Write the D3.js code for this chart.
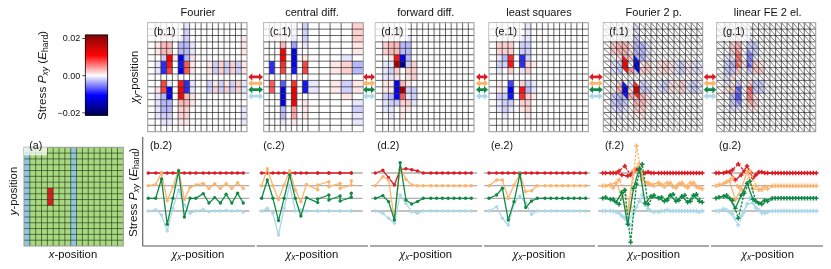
<!DOCTYPE html>
<html><head><meta charset="utf-8">
<script src="https://cdn.jsdelivr.net/npm/d3@7/dist/d3.min.js"></script>
<style>html,body{margin:0;padding:0;background:#fff}svg{display:block;filter:blur(0.3px)}text{font-family:"Liberation Sans",Arial,sans-serif;fill:#111}</style>
</head><body><svg id="c" width="831" height="269"></svg>
<script>
// ---------- text ----------
const panelTitles = ["Fourier","central diff.","forward diff.","least squares","Fourier 2 p.","linear FE 2 el."];
const panelTags = ["b","c","d","e","f","g"];
const seriesColors = ["#dc1c24","#fdb36c","#0f8a45","#abd9e9"];
// ---------- heat maps, stress in 1e-3 E_hard ----------
const heatB = [
[0,0,0,0,0,0,-1,0,0,0,0,0,0,0,0,0,0],
[0,0,0,0,0,0,-2,0,0,0,0,0,0,0,0,0,0],
[0,0,1,1,0,-1,-2,0,0,0,0,0,0,0,0,0,1],
[0,1,3,3,0,-3,-3,-1,0,0,0,0,0,0,0,0,1],
[0,1,3,3,0,-3,-3,-1,0,0,0,0,0,0,0,0,1],
[0,0,-2,11,1,-11,-3,1,0,0,0,0,0,0,0,0,0],
[0,-1,-9,10,0,-10,7,1,0,0,1,-2,2,-2,2,-2,1],
[0,-1,-9,8,0,-11,7,1,0,0,1,-2,2,-2,2,-2,1],
[0,0,0,0,0,0,0,0,0,0,0,0,0,0,0,0,0],
[0,0,8,-1,0,10,-9,-1,0,0,-2,1,-2,1,-2,2,-1],
[0,1,8,-11,0,11,-9,-1,0,0,-2,2,-2,2,-2,2,-1],
[0,-1,-3,-11,0,11,3,1,0,0,0,0,0,0,0,0,0],
[0,-1,-3,-3,0,3,3,1,0,0,0,0,0,0,0,0,0],
[0,-1,-3,-3,0,2,2,0,0,0,0,0,0,0,0,0,-1],
[0,-1,-2,-2,0,2,2,0,0,0,0,0,0,0,0,0,-1],
[0,0,-1,-1,0,1,1,0,0,0,0,0,0,0,0,0,-1],
[0,0,0,0,0,0,0,0,0,0,0,0,0,0,0,0,0]];
const heatC = [
[0,0,0,0,0,-1,0,-2,0,0,0,0,2],
[0,0,0,0,0,-1,0,-2,0,0,0,0,2],
[0,0,0,2,0,-3,0,-2,0,0,0,0,2],
[0,0,0,3,0,-4,0,-1,0,0,0,0,1],
[0,0,0,11,0,-12,0,0,0,0,0,0,1],
[0,0,0,11,0,-12,0,1,0,0,0,-1,0],
[0,-9,0,9,0,-11,0,8,0,0,1,2,-3],
[0,-9,0,8,0,-10,0,8,0,0,1,2,-3],
[0,0,0,0,0,0,0,0,0,0,0,0,0],
[0,7,0,-7,0,9,0,-10,-1,0,1,-2,1],
[0,7,0,-12,0,12,0,-10,-1,0,1,-2,1],
[0,0,0,-12,0,12,0,0,0,0,0,1,0],
[0,0,0,-12,0,11,0,1,0,0,0,0,-1],
[0,0,0,-3,0,4,0,1,0,0,0,0,-2],
[0,0,0,-3,0,4,0,1,0,0,0,0,-1],
[0,0,0,-1,0,1,0,0,0,0,0,0,-1],
[0,0,0,0,0,0,0,0,0,0,0,0,0]];
const heatD = [
[0,0,0,0,0,0,0,0,0,0,0,0,0,0,0,0,0],
[0,0,0,0,0,0,0,0,0,0,0,0,0,0,0,0,0],
[0,0,1,1,-1,-1,0,0,0,0,0,0,0,0,0,0,0],
[0,2,3,3,-3,-3,0,0,0,0,0,0,0,0,0,0,0],
[0,2,3,3,-3,-3,0,0,0,0,0,0,0,0,0,0,0],
[0,0,1,10,-11,-3,0,0,0,0,0,0,0,0,0,0,0],
[0,-1,-1,18,-17,-2,2,0,0,0,0,0,0,0,0,0,0],
[0,-1,-2,2,0,2,2,0,0,0,0,0,0,0,0,0,0],
[0,-1,-1,1,0,1,2,0,0,0,0,0,0,0,0,0,0],
[0,1,1,-11,3,1,0,0,0,0,0,0,0,0,0,0,0],
[0,1,1,-12,18,-2,-2,0,0,0,0,0,0,0,0,0,0],
[0,-2,-3,-11,7,-1,-2,0,0,0,0,0,0,0,0,0,0],
[0,-1,-2,-2,2,2,-1,0,0,0,0,0,0,0,0,0,0],
[0,-1,-1,0,1,1,0,0,0,0,0,0,0,0,0,0,0],
[0,0,-1,0,1,0,0,0,0,0,0,0,0,0,0,0,0],
[0,0,0,0,0,0,0,0,0,0,0,0,0,0,0,0,0],
[0,0,0,0,0,0,0,0,0,0,0,0,0,0,0,0,0]];
const heatE = [
[0,0,0,0,0,0,-1,0,0,0,0,0,0,0,0,0,0],
[0,0,0,0,0,0,-1,0,0,0,0,0,0,0,0,0,0],
[0,0,1,1,0,-1,-1,0,0,0,0,0,0,0,0,0,0],
[0,2,2,2,0,-2,-2,0,0,0,0,0,0,0,0,0,0],
[0,2,2,2,0,-2,-2,0,0,0,0,0,0,0,0,0,0],
[0,-1,-3,9,0,-9,-2,0,0,0,0,0,0,0,0,0,0],
[0,-2,-2,10,0,-9,2,1,0,0,0,0,0,0,0,0,0],
[0,-1,0,2,0,-1,2,0,0,0,0,0,0,0,0,0,0],
[0,0,0,0,0,0,0,0,0,0,0,0,0,0,0,0,0],
[0,1,0,-8,0,2,-2,-1,0,0,0,0,0,0,0,0,0],
[0,1,-1,-11,0,10,-3,-1,0,0,0,0,0,0,0,0,0],
[0,-2,-2,-10,0,9,2,1,0,0,0,0,0,0,0,0,0],
[0,-1,-2,-2,0,2,2,0,0,0,0,0,0,0,0,0,0],
[0,-1,-2,-1,0,1,2,0,0,0,0,0,0,0,0,0,0],
[0,0,-1,0,0,0,1,0,0,0,0,0,0,0,0,0,0],
[0,0,0,0,0,0,0,0,0,0,0,0,0,0,0,0,0],
[0,0,0,0,0,0,0,0,0,0,0,0,0,0,0,0,0]];
const heatF = [
[0,0,0,0,0,-1,0,0,0,0,0,0,0,0,0,0,0],
[0,0,0,0,0,-1,0,0,0,0,0,0,0,0,0,0,0],
[0,0,1,0,0,-2,0,0,0,0,0,0,0,0,0,0,0],
[0,2,3,3,1,-3,-3,-1,0,0,0,0,0,0,0,0,0],
[0,2,3,3,1,-3,-3,-1,0,0,0,0,0,0,0,0,0],
[0,0,1,3,2,-3,-3,-1,0,0,0,0,0,0,0,0,0],
[0,-1,-2,11,0,-13,1,2,0,1,2,1,-1,-2,1,-1,-1],
[0,-1,-2,0,4,-2,2,2,0,1,2,1,-1,-2,1,-1,-1],
[0,0,0,0,0,0,0,0,0,0,0,0,0,0,0,0,0],
[0,0,2,0,-1,0,-2,-1,0,-1,-2,1,1,2,-1,-2,-1],
[0,0,3,-12,1,14,-2,-2,0,-1,-2,1,1,2,-1,-2,-1],
[0,-2,-3,-3,3,3,3,1,0,0,0,0,0,0,0,0,0],
[0,-2,-3,-2,0,3,3,1,0,0,0,0,0,0,0,0,0],
[0,-1,-2,-1,0,2,2,0,0,0,0,0,0,0,0,0,0],
[0,0,-1,0,0,1,1,0,0,0,0,0,0,0,0,0,0],
[0,0,0,0,0,0,0,0,0,0,0,0,0,0,0,0,0],
[0,0,0,0,0,0,0,0,0,0,0,0,0,0,0,0,0]];
const heatG = [
[0,0,0,0,0,0,0,0,0,0,0,0,0,0,0,0,0],
[0,0,0,0,0,0,0,0,0,0,0,0,0,0,0,0,0],
[0,0,0,1,0,-1,0,0,0,0,0,0,0,0,0,0,0],
[0,0,2,3,0,-2,-2,0,0,0,0,0,0,0,0,0,0],
[0,0,2,3,0,-2,-2,0,0,0,0,0,0,0,0,0,0],
[0,-1,-1,6,0,-5,-1,0,0,0,0,0,0,0,0,0,0],
[0,-2,-3,7,1,-7,2,1,0,0,0,0,0,0,0,0,0],
[0,-2,-2,2,0,-2,2,2,0,0,0,0,0,0,0,0,0],
[0,-1,1,0,0,0,0,0,0,0,0,0,0,0,0,0,0],
[0,-1,1,-2,0,2,-2,-2,0,0,0,0,0,0,0,0,0],
[0,1,2,-7,0,7,-2,-2,0,0,0,0,0,0,0,0,0],
[0,0,-3,-7,0,5,1,0,0,0,0,0,0,0,0,0,0],
[0,0,-2,-3,0,2,2,0,0,0,0,0,0,0,0,0,0],
[0,0,-1,-1,0,1,1,0,0,0,0,0,0,0,0,0,0],
[0,0,0,0,0,0,0,0,0,0,0,0,0,0,0,0,0],
[0,0,0,0,0,0,0,0,0,0,0,0,0,0,0,0,0],
[0,0,0,0,0,0,0,0,0,0,0,0,0,0,0,0,0]];
// triangle overrides [row, col, triangle, value]
const triF = [[5,3,"ll",10],[5,5,"ll",-10],[7,3,"ur",10],[7,5,"ur",-11],[9,3,"ll",-10],[9,5,"ll",9],[11,3,"ur",-10],[11,5,"ur",9]];
const triG = [[4,3,"ll",5],[6,3,"ur",4],[4,5,"ll",-5],[6,5,"ur",-4],[10,3,"ll",-5],[12,3,"ur",-5],[10,5,"ll",5],[12,5,"ur",4]];
// ---------- line profiles, deviation from each offset baseline ----------
const zero17 = [0,0,0,0,0,0,0,0,0,0,0,0,0,0,0,0,0];
const lineB = [zero17,
 [0,1.3,12.7,-15,-1,15.7,-13.7,-1.7,0.7,2.3,-2.7,2,-2.7,2,-2.7,3,-2.7],
 [0,0,19.3,-26,0,27.3,-18.7,0,0,4.7,-4.7,0.7,-4.7,4,-4.7,5,-4.7],
 [0,1.3,-4,-20,2.7,21,6,-2.3,0,1.3,-0.7,0,0,0.7,0,0.3,-1]];
const lineC = [zero17,
 [0,17,0,-13.7,0.7,15,-4.3,-16,1.3,-4,0.7,4,-1,2.3,-2.7,0.7,5],
 [0,18.3,0,-22.3,0,23.3,0,-17.7,0.7,-4.3,-0.7,3.3,-1.7,2.3,-2.7,1,5],
 [0,2.7,-2.3,-24,2.7,26,0,1,0,0,0,0,0,0,0,0,0]];
const lineD = [
 [0,2.7,-4.7,-12,3.3,4.3,3.3,2,0,0,0,0,0,0,0,0,0],
 [0,9,5.7,-34,18,6.3,0.7,0,0,0,0,0,0,0,0,0,0],
 [0,2.7,-3.3,-21.7,35.7,-1.7,-5.7,-3.3,0,0,0,0,0,0,0,0,0],
 [0,-2.3,-7.3,-12.3,16,7.7,-0.7,-2.3,0,0,0,0,0,0,0,0,0]];
const lineE = [zero17,
 [0,5.7,5.7,-12.7,0.7,11.7,-6,-5,0,0,0,0,0,0,0,0,0],
 [0,3.3,10,-21.7,-3.3,24,-9.3,-2.7,0,0,0,0,0,0,0,0,0],
 [0,4.3,-7.3,-14,7.7,15,7.7,-3.3,0,0,0,0,0,0,0,0,0]];
const lineF = [
 [0,0,0,-2,-3,2,3,0,0,0,0,0,0,0,0,0,0],
 [0,1,3,-10,-27,15,22,2,1,3,-1,3,-2,3,-2,3,-2],
 [0,-1,-4,6,-26,10,30,-5,2,0,-3,3,-3,2,-4,3,-3],
 [0,0,-1,-5,-12,-1,10,6,0,-1,0,0,0,0,0,0,-1]];
const dashF = [
 [0,0,2,7,-2,4,-1,1,0,0,0,0,0,0,0,0,0],
 [0,-2,6,-4,-22,40,6,3,0,1,3,-1,2,0,3,-1,-3],
 [1,-1,-6,8,-44,14,34,-6,3,1,-2,4,-2,3,-3,4,-4],
 [0,0,-2,-7,-14,4,16,2,-1,0,1,0,0,0,0,0,0]];
const lineG = [
 [0,0,1,-7,-2,7,-5,1,0,0,0,0,0,0,0,0,0],
 [0,2,5,-14,-3,14,-3,-4,-1,0,0,0,0,0,0,0,0],
 [0,2,0,-10,3,15,-1,-5,-2,0,0,0,0,0,0,0,0],
 [0,2,-1,-8,-5,7,8,1,-2,0,0,0,0,0,0,0,0]];
const dashG = [
 [0,1,3,9,2,1,-2,1,0,0,0,0,0,0,0,0,0],
 [1,4,8,-1,-6,15,0,-4,-3,0,0,0,0,0,0,0,0],
 [1,3,-2,-20,5,17,-3,-6,-3,0,0,0,0,0,0,0,0],
 [0,1,-3,-14,-1,13,3,-2,-1,0,0,0,0,0,0,0,0]];
const seriesBase = [38,25.3,12.7,0];
// ---------- sample grids ----------
const edgesUniform = [0,1.3,2.3,3.3,4.3,5.3,6.3,7.3,8.3,9.3,10.3,11.3,12.3,13.3,14.3,15.3,16.3,17.3];
const edgesC = [0,1,2,3,4,5,6,7,8,10,12,14,16,18];
const pointsUniform = [0,1.3,2.3,3.3,4.3,5.3,6.3,7.3,8.3,9.6,10.6,11.6,12.6,13.6,14.6,15.6,16.6];
const pointsC = [0,1,2,3,4,5,6,7,8,10,10,12,12,14,14,16,16];
// ---------- material map (a) ----------
const softCols = [0,8];
const hardRows = [7,8,9];
const hardCol = 4;
// ---------- layout ----------
const heatBoxes = [[147.7,247],[263.7,363.3],[375.3,474],[489,588.3],[603.3,702.7],[716.7,815.7]];
const labelBoxEnd = [181,296.7,408,521.7,632.7,750];
const titleX = [198,312,425.8,539,653.7,767.7];
const lineX = [[148.3,243.3],[261.7,351.3],[375.3,471.3],[489,585.7],[602.7,699.3],[716,813.3]];
const baseSpan = [[146.7,249.3],[259.3,362.7],[371,477.3],[484,590.3],[598.3,704.3],[711.7,818.3]];
const spineSpan = [[142.7,255],[256.7,368],[370,482],[484,595],[597.7,709],[711,823]];
const tagX2 = [150,263.3,377.3,491,605,719];
const arrowSpans = [[248.3,263],[363,375],[476,488],[589,602.7],[703.7,716.3]];

const svg = d3.select("#c");
const color = d3.scaleLinear().domain([-21.6,-10.8,0,10.8,21.6]).range(["#00004d","#0000ff","#ffffff","#ff0000","#800000"]).clamp(true);

// colour bar
const cbY = d3.scaleLinear().domain([-21.6,21.6]).range([115.3,35]);
const cb = svg.append("g");
cb.selectAll("rect").data(d3.range(-21.6,21.6,0.27)).join("rect")
  .attr("x",85.3).attr("width",22.4).attr("y",d=>cbY(d+0.27)-0.3).attr("height",d=>cbY(d)-cbY(d+0.27)+0.6).attr("fill",d=>color(d+0.135));
cb.append("rect").attr("x",85.3).attr("y",35).attr("width",22.4).attr("height",80.3).attr("fill","none").attr("stroke","#000").attr("stroke-width",0.8);
const cbAxis = svg.append("g").attr("transform","translate(85.3,0)")
  .call(d3.axisLeft(cbY).tickValues([-20,0,20]).tickSize(3).tickPadding(2).tickFormat(d=>(d<0?"\u2212":"")+(Math.abs(d)/1000).toFixed(2)));
cbAxis.select(".domain").remove();
cbAxis.selectAll("line").attr("stroke","#000").attr("stroke-width",0.7);
cbAxis.selectAll("text").attr("font-size",9).style("font-family","'Liberation Sans',Arial,sans-serif").attr("fill","#111");

function stressLabel(x,y){
  const t = svg.append("text").attr("transform",`translate(${x},${y}) rotate(-90)`).attr("text-anchor","middle").attr("font-size",11.8);
  t.append("tspan").text("Stress ");
  t.append("tspan").attr("font-style","italic").text("P");
  t.append("tspan").attr("font-style","italic").attr("font-size",8.5).attr("dy",2).text("xy");
  t.append("tspan").attr("dy",-2).text(" (");
  t.append("tspan").attr("font-style","italic").text("E");
  t.append("tspan").attr("font-size",8.5).attr("dy",2).text("hard");
  t.append("tspan").attr("dy",-2).text(")");
}
function chiLabel(x,y,sub,rot){
  const t = svg.append("text").attr("transform",`translate(${x},${y})`+(rot?" rotate(-90)":"")).attr("text-anchor","middle").attr("font-size",11.3);
  t.append("tspan").attr("font-style","italic").style("font-family","'Liberation Serif',serif").attr("font-size",12.5).text("\u03c7");
  t.append("tspan").attr("font-style","italic").attr("font-size",8.5).attr("dy",2).text(sub);
  t.append("tspan").attr("dy",-2).text("-position");
}
stressLabel(46,75.5);
stressLabel(137,192.5);

// heat panels
const heatY = d3.scaleLinear().domain([0,17]).range([22.7,131.7]);
const heats = [heatB,heatC,heatD,heatE,heatF,heatG];
const tris = [null,null,null,null,triF,triG];
heats.forEach((M,p)=>{
  const edges = p===1?edgesC:edgesUniform;
  const X = d3.scaleLinear().domain([0,edges[edges.length-1]]).range(heatBoxes[p]);
  const g = svg.append("g");
  const cells = [];
  M.forEach((row,r)=>row.forEach((v,c)=>cells.push({r,c,v})));
  if(!tris[p]){
    g.selectAll("rect").data(cells).join("rect")
     .attr("x",d=>X(edges[d.c])).attr("y",d=>heatY(d.r))
     .attr("width",d=>X(edges[d.c+1])-X(edges[d.c])).attr("height",d=>heatY(d.r+1)-heatY(d.r))
     .attr("fill",d=>color(d.v));
  } else {
    const tv=(r,c,k,v)=>{const o=tris[p].find(t=>t[0]===r&&t[1]===c&&t[2]===k);return o?o[3]:v;};
    const polys=[];
    cells.forEach(d=>{
      const x0=X(edges[d.c]),x1=X(edges[d.c+1]),y0=heatY(d.r),y1=heatY(d.r+1);
      polys.push({pts:[[x0,y0],[x0,y1],[x1,y1]],v:tv(d.r,d.c,"ll",d.v)});
      polys.push({pts:[[x0,y0],[x1,y0],[x1,y1]],v:tv(d.r,d.c,"ur",d.v)});
    });
    g.selectAll("polygon").data(polys).join("polygon")
     .attr("points",d=>d.pts.join(" ")).attr("fill",d=>color(d.v)).attr("stroke",d=>color(d.v)).attr("stroke-width",0.2);
    g.selectAll("line.diag").data(cells).join("line").attr("class","diag")
     .attr("x1",d=>X(edges[d.c])).attr("y1",d=>heatY(d.r)).attr("x2",d=>X(edges[d.c+1])).attr("y2",d=>heatY(d.r+1))
     .attr("stroke","#222").attr("stroke-width",0.6);
  }
  g.selectAll("line.v").data(edges.slice(1,-1)).join("line").attr("class","v")
   .attr("x1",d=>X(d)).attr("x2",d=>X(d)).attr("y1",heatY(0)).attr("y2",heatY(17)).attr("stroke","#222").attr("stroke-width",0.7);
  g.selectAll("line.h").data(d3.range(1,17)).join("line").attr("class","h")
   .attr("x1",heatBoxes[p][0]).attr("x2",heatBoxes[p][1]).attr("y1",d=>heatY(d)).attr("y2",d=>heatY(d)).attr("stroke","#222").attr("stroke-width",0.7);
  g.append("rect").attr("x",heatBoxes[p][0]).attr("y",heatY(0)).attr("width",heatBoxes[p][1]-heatBoxes[p][0]).attr("height",heatY(17)-heatY(0))
   .attr("fill","none").attr("stroke","#999").attr("stroke-width",1);
  g.append("rect").attr("x",heatBoxes[p][0]).attr("y",heatY(0)).attr("width",labelBoxEnd[p]-heatBoxes[p][0]).attr("height",18.3).attr("fill","#fff").attr("fill-opacity",0.75);
  g.append("text").attr("x",heatBoxes[p][0]+6).attr("y",34.5).attr("font-size",10.7).text(`(${panelTags[p]}.1)`);
  svg.append("text").attr("x",titleX[p]).attr("y",16).attr("text-anchor","middle").attr("font-size",11).text(panelTitles[p]);
  chiLabel(titleX[p],258,"x",false);
});
chiLabel(137.5,77,"y",true);

// arrows
const arrowRows = [8,9,10,11];
arrowSpans.forEach(s=>{
  arrowRows.forEach((r,i)=>{
    const y=heatY(r+0.5)-0.3, x0=s[0], x1=s[1], h=3.6, a=4, w=1.4;
    const path=d3.path();
    path.moveTo(x0,y);path.lineTo(x0+a,y-h);path.lineTo(x0+a,y-w);path.lineTo(x1-a,y-w);path.lineTo(x1-a,y-h);
    path.lineTo(x1,y);path.lineTo(x1-a,y+h);path.lineTo(x1-a,y+w);path.lineTo(x0+a,y+w);path.lineTo(x0+a,y+h);path.closePath();
    svg.append("path").attr("d",path.toString()).attr("fill",seriesColors[i]);
  });
});

// panel (a)
const aX = d3.scaleLinear().domain([0,17]).range([24,123.3]);
const aY = d3.scaleLinear().domain([0,17]).range([147.3,246]);
const ag = svg.append("g");
ag.append("rect").attr("x",aX(0)).attr("y",aY(0)).attr("width",aX(17)-aX(0)).attr("height",aY(17)-aY(0)).attr("fill","#a9d87f");
ag.selectAll("rect.s").data(softCols).join("rect").attr("class","s").attr("x",d=>aX(d)).attr("y",aY(0)).attr("width",aX(1)-aX(0)).attr("height",aY(17)-aY(0)).attr("fill","#92c5de");
ag.selectAll("rect.h").data(hardRows).join("rect").attr("class","h").attr("x",aX(hardCol)).attr("y",d=>aY(d)).attr("width",aX(1)-aX(0)).attr("height",aY(1)-aY(0)).attr("fill","#e41a1c");
ag.selectAll("line.v").data(d3.range(1,17)).join("line").attr("class","v").attr("x1",d=>aX(d)).attr("x2",d=>aX(d)).attr("y1",aY(0)).attr("y2",aY(17)).attr("stroke","#1f3a1f").attr("stroke-width",0.65);
ag.selectAll("line.hh").data(d3.range(1,17)).join("line").attr("class","hh").attr("x1",aX(0)).attr("x2",aX(17)).attr("y1",d=>aY(d)).attr("y2",d=>aY(d)).attr("stroke","#1f3a1f").attr("stroke-width",0.65);
ag.append("rect").attr("x",aX(0)).attr("y",aY(0)).attr("width",aX(17)-aX(0)).attr("height",aY(17)-aY(0)).attr("fill","none").attr("stroke","#999").attr("stroke-width",1);
ag.append("rect").attr("x",24).attr("y",147.3).attr("width",23).attr("height",8).attr("fill","#fff").attr("fill-opacity",0.75);
svg.append("text").attr("x",29.3).attr("y",149).attr("font-size",10.7).text("(a)");
const xl = svg.append("text").attr("x",73).attr("y",258).attr("text-anchor","middle").attr("font-size",11.3);
xl.append("tspan").attr("font-style","italic").text("x");xl.append("tspan").text("-position");
const yl = svg.append("text").attr("transform","translate(17,191) rotate(-90)").attr("text-anchor","middle").attr("font-size",11.3);
yl.append("tspan").attr("font-style","italic").text("y");yl.append("tspan").text("-position");

// line panels
const lineY = d3.scaleLinear().domain([-35,74]).range([246,137]);
svg.append("line").attr("x1",142.7).attr("x2",142.7).attr("y1",137).attr("y2",246).attr("stroke","#666").attr("stroke-width",1.2);
const lines = [lineB,lineC,lineD,lineE,lineF,lineG];
const dashes = [null,null,null,null,dashF,dashG];
const drawOrder = [0,3,1,2];
const dot = d3.symbol().type(d3.symbolCircle).size(9)();
const plus = d3.symbol().type(d3.symbolCross).size(11)();
lines.forEach((L,p)=>{
  const g = svg.append("g");
  const units = p===1?pointsC:pointsUniform;
  const X = d3.scaleLinear().domain([units[0],units[units.length-1]]).range(lineX[p]);
  g.append("line").attr("x1",spineSpan[p][0]).attr("x2",spineSpan[p][1]).attr("y1",246).attr("y2",246).attr("stroke","#555").attr("stroke-width",1);
  g.selectAll("line.b").data(seriesBase).join("line").attr("class","b").attr("x1",baseSpan[p][0]).attr("x2",baseSpan[p][1])
   .attr("y1",d=>lineY(d)).attr("y2",d=>lineY(d)).attr("stroke","#aeaeae").attr("stroke-width",1.3);
  const draw=(vals,i,offset,dashed)=>{
    const pts = vals.map((v,k)=>[X(units[k]+offset),lineY(seriesBase[i]+v)]);
    g.append("path").attr("d",d3.line()(pts)).attr("fill","none").attr("stroke",seriesColors[i]).attr("stroke-width",1.3)
     .attr("stroke-dasharray",dashed?"2.5,1.3":null).attr("stroke-linejoin","round");
    g.selectAll(null).data(pts).join("path").attr("d",dashes[p]?plus:dot)
     .attr("transform",d=>`translate(${d[0]},${d[1]})`).attr("fill",seriesColors[i]);
  };
  drawOrder.forEach(i=>{
    draw(L[i],i,0,false);
    if(dashes[p]) draw(dashes[p][i],i,0.5,true);
  });
  svg.append("text").attr("x",tagX2[p]).attr("y",149).attr("font-size",10.7).text(`(${panelTags[p]}.2)`);
});
</script></body></html>
